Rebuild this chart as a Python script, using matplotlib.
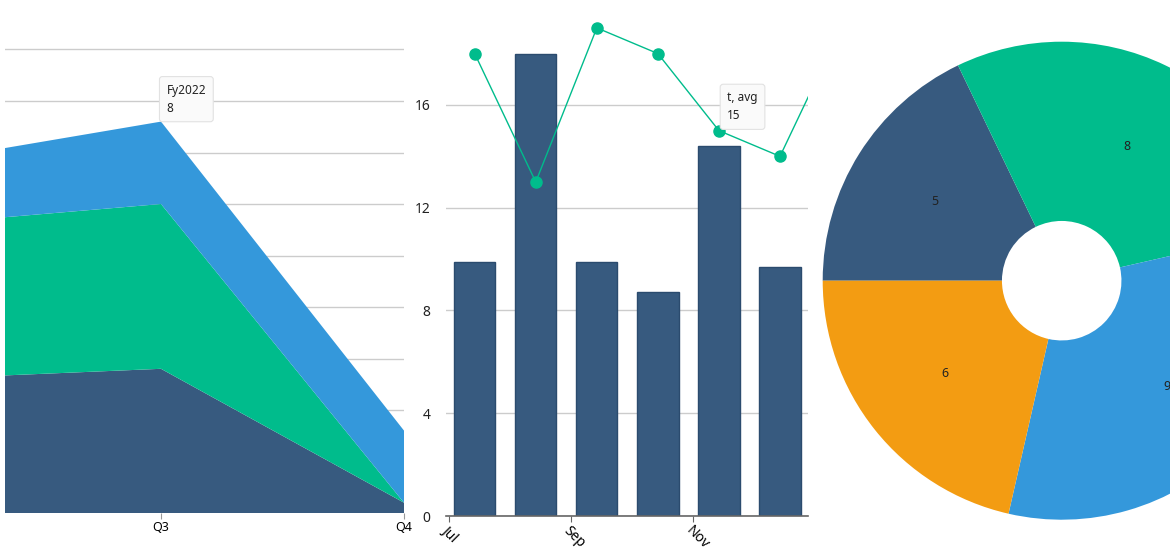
import matplotlib.pyplot as plt
import numpy as np

plt.rcParams["font.family"] = ["Noto Sans", "DejaVu Sans"]

# ------------------------------------
# Data
# ------------------------------------

quarters = ["Q2", "Q3", "Q4"]
area_dark = [13, 14, 1]
area_green = [15, 16, 0]
area_blue = [6, 8, 7]

months = ["Jul", "Aug", "Sep", "Oct", "Nov", "Dec", "Jan"]
bar_values = [9.9, 18.0, 9.9, 8.7, 14.4, 9.7]
line_values = [18, 13, 19, 18, 15, 14, 19]
month_ticks = ["Jul", "Sep", "Nov"]

donut_values = [5, 8, 9, 6]

dark = "#375a7f"
green = "#00bc8c"
blue = "#3498db"
orange = "#f39c12"
grid_color = "#cccccc"

W, H = 1170, 550
fig = plt.figure(figsize=(W / 100, H / 100), dpi=100)


def px_axes(left, top, right, bottom):
    return fig.add_axes([left / W, 1 - bottom / H, (right - left) / W, (bottom - top) / H])


def tooltip(ax, x, y, text, dx, dy):
    ax.annotate(
        text,
        xy=(x, y),
        xytext=(dx, dy),
        textcoords="offset points",
        ha="left",
        va="bottom",
        fontsize=8.5,
        color="#222222",
        linespacing=1.5,
        bbox=dict(boxstyle="round,pad=0.6,rounding_size=0.25",
                  fc="#fafafa", ec="#e2e2e2", lw=0.8),
        zorder=10,
    )


# ------------------------------------
# Left: stacked area
# ------------------------------------

ax1 = px_axes(5, 513 - 48 * 10.3, 404, 513)
qx = np.arange(len(quarters))
ax1.stackplot(qx, area_dark, area_green, area_blue,
              colors=[dark, green, blue], linewidth=0, zorder=2)
ax1.set_xlim(1 - 156 / 243, 2)
ax1.set_ylim(0, 48)
ax1.set_yticks(range(5, 46, 5))
ax1.yaxis.grid(True, color=grid_color, linewidth=1)
ax1.set_axisbelow(True)
ax1.tick_params(axis="y", length=0, labelleft=False)
ax1.set_xticks([1, 2])
ax1.set_xticklabels(quarters[1:])
ax1.tick_params(axis="x", length=4, color="#999999", labelsize=9, pad=2)
for s in ["top", "right", "left", "bottom"]:
    ax1.spines[s].set_visible(False)

top_q3 = area_dark[1] + area_green[1] + area_blue[1]
tooltip(ax1, 1, top_q3, "Fy2022\n8", 4, 5)

# ------------------------------------
# Middle: bars + line
# ------------------------------------

step = 61.06
ax2 = px_axes(446, 516 - 20 * 25.69, 808, 516)
mx = np.arange(len(bar_values))
ax2.bar(mx, bar_values, width=0.676, color=dark, edgecolor="#2b4b6e",
        linewidth=1, zorder=2)
ax2.plot(np.arange(len(line_values)), line_values, color=green, linewidth=1,
         marker="o", markersize=8, zorder=3, clip_on=True)
ax2.set_xlim(-28.7 / step, 333.3 / step)
ax2.set_ylim(0, 20)
ax2.set_yticks([0, 4, 8, 12, 16])
ax2.yaxis.grid(True, color=grid_color, linewidth=1)
ax2.set_axisbelow(True)
ax2.tick_params(axis="y", length=0, pad=11, labelsize=10, labelcolor="#222222")
tick_pos = [months.index(m) - 0.42 for m in month_ticks]
ax2.set_xticks(tick_pos)
ax2.set_xticklabels(month_ticks, rotation=-45, ha="left", va="top",
                    rotation_mode="anchor", fontsize=10)
ax2.tick_params(axis="x", length=4, color="#666666", pad=1)
for s in ["top", "right", "left"]:
    ax2.spines[s].set_visible(False)
ax2.spines["bottom"].set_color("#666666")
ax2.spines["bottom"].set_linewidth(1.2)

tooltip(ax2, 4, line_values[4], "t, avg\n15", 6, 6)

# ------------------------------------
# Right: donut
# ------------------------------------

R = 239
cx, cy = 1061.7, 280.7
ax3 = px_axes(cx - R, cy - R, cx + R, cy + R)
total = sum(donut_values)
ax3.pie(
    donut_values,
    colors=[dark, green, blue, orange],
    startangle=180,
    counterclock=False,
    radius=1,
    wedgeprops=dict(width=0.75, linewidth=0),
    autopct=lambda p: f"{p * total / 100:.0f}",
    pctdistance=0.625,
    textprops=dict(fontsize=9, color="#222222"),
)
ax3.set_xlim(-1, 1)
ax3.set_ylim(-1, 1)
ax3.set_aspect("equal")
ax3.axis("off")

fig.savefig("out.png", dpi=100)
